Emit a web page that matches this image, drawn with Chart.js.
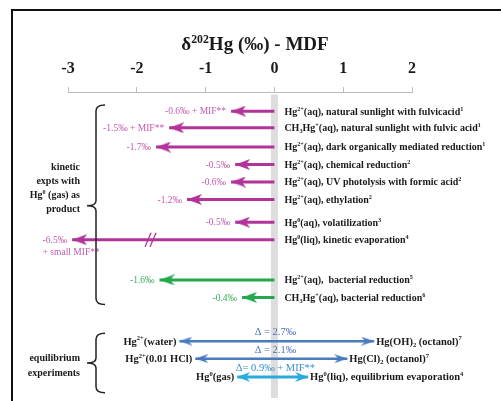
<!DOCTYPE html>
<html>
<head>
<meta charset="utf-8">
<script src="https://cdn.jsdelivr.net/npm/chart.js@4.4.1/dist/chart.umd.min.js"></script>
<style>
  html, body { margin: 0; padding: 0; background: #fff; }
  canvas { display: block; }
</style>
</head>
<body>
<canvas id="c" width="501" height="401"></canvas>
<script>
// ====================
// data
// ====================
const xTicks = [-3, -2, -1, 0, 1, 2];

// kinetic experiments: arrow from 0 to the tip
const kinRows = [1.1, 2.05, 3.15, 4.15, 5.15, 6.15, 7.45, 8.45, 10.75, 11.75];
const kinTips = [-0.63, -1.53, -1.72, -0.57, -0.63, -1.27, -0.57, -2.94, -1.67, -0.47];
const kinGroup = ["m", "m", "m", "m", "m", "m", "m", "m", "g", "g"];
const kinValueLabels = [
  "-0.6‰ + MIF**", "-1.5‰ + MIF**", "-1.7‰", "-0.5‰", "-0.6‰", "-1.2‰",
  "-0.5‰", "-6.5‰\n+ small MIF**", "-1.6‰", "-0.4‰"
];
const kinProcess = [
  "Hg^{2+}(aq), natural sunlight with fulvicacid^{1}",
  "CH_{3}Hg^{+}(aq), natural sunlight with fulvic acid^{1}",
  "Hg^{2+}(aq), dark organically mediated reduction^{1}",
  "Hg^{2+}(aq), chemical reduction^{2}",
  "Hg^{2+}(aq), UV photolysis with formic acid^{2}",
  "Hg^{2+}(aq), ethylation^{2}",
  "Hg^{0}(aq), volatilization^{3}",
  "Hg^{0}(liq), kinetic evaporation^{4}",
  "Hg^{2+}(aq),  bacterial reduction^{5}",
  "CH_{3}Hg^{+}(aq), bacterial reduction^{6}"
];
const brokenRow = 7;      // -6.5 arrow runs through an axis break
const breakAt = -1.8;

// equilibrium experiments: double arrows
const eqRows = [14.25, 15.25, 16.3];
const eqLeft = [-1.38, -1.15, -0.54];
const eqRight = [1.45, 1.06, 0.49];
const eqGroup = ["b", "b", "c"];
const eqLeftLabels = ["Hg^{2+}(water)", "Hg^{2+}(0.01 HCl)", "Hg^{0}(gas)"];
const eqRightLabels = ["Hg(OH)_{2} (octanol)^{7}", "Hg(Cl)_{2} (octanol)^{7}", "Hg^{0}(liq), equilibrium evaporation^{4}"];
const eqDelta = ["Δ = 2.7‰", "Δ = 2.1‰", "Δ= 0.9‰ + MIF**"];

const titleText = "δ^{202}Hg (‰) - MDF";
const kinGroupLabel = ["kinetic", "expts with", "Hg^{0} (gas) as", "product"];
const eqGroupLabel = ["equilibrium", "experiments"];

// ====================
// styles
// ====================
const colors = {
  m: { line: "#b0349a", text: "#c25bb0" },
  g: { line: "#23a84e", text: "#3aab5c" },
  b: { line: "#4a7bbf", text: "#4a74b4" },
  c: { line: "#2aa9df", text: "#3d8fc8" }
};
const serif = '"Liberation Serif", "Times New Roman", serif';

function makeHead(color, len, half) {
  // tip sits at the canvas centre so it lands on the data point
  const cv = document.createElement("canvas");
  cv.width = len * 2;
  cv.height = half * 2;
  const g = cv.getContext("2d");
  g.fillStyle = color;
  g.beginPath();
  g.moveTo(len, half);
  g.lineTo(0, 0);
  g.lineTo(4, half);
  g.lineTo(0, half * 2);
  g.closePath();
  g.fill();
  return cv;
}
const heads = {
  m: makeHead(colors.m.line, 15, 5.5),
  g: makeHead(colors.g.line, 15, 5.5),
  b: makeHead(colors.b.line, 13, 4.5),
  c: makeHead(colors.c.line, 13, 5)
};

// text with ^{sup} and _{sub}
function richText(ctx, str, x, y, size, weight, color, align) {
  const segs = [];
  const re = /([\^_])\{([^}]*)\}/g;
  let last = 0, m;
  while ((m = re.exec(str))) {
    if (m.index > last) segs.push({ t: str.slice(last, m.index), k: "" });
    segs.push({ t: m[2], k: m[1] });
    last = re.lastIndex;
  }
  if (last < str.length) segs.push({ t: str.slice(last), k: "" });
  const font = k => `${weight} ${k ? size * 0.62 : size}px ${serif}`;
  let w = 0;
  segs.forEach(s => { ctx.font = font(s.k); s.w = ctx.measureText(s.t).width; w += s.w; });
  let cx = align === "right" ? x - w : align === "center" ? x - w / 2 : x;
  ctx.fillStyle = color;
  ctx.textAlign = "left";
  ctx.textBaseline = "alphabetic";
  const base = y + size * 0.33;
  segs.forEach(s => {
    ctx.font = font(s.k);
    const dy = s.k === "^" ? -size * 0.4 : s.k === "_" ? size * 0.22 : 0;
    ctx.fillText(s.t, cx, base + dy);
    cx += s.w;
  });
  return w;
}

// ====================
// datasets
// ====================
const datasets = [];
// zero band
datasets.push({
  data: [{ x: 0, y: 0.15 }, { x: 0, y: 17.5 }],
  showLine: true, borderColor: "#dddddd", borderWidth: 7, pointRadius: 0, order: 10
});
kinRows.forEach((r, i) => {
  const k = kinGroup[i];
  datasets.push({
    data: [{ x: 0, y: r }, { x: kinTips[i], y: r }],
    showLine: true, borderColor: colors[k].line, borderWidth: 3,
    pointRadius: [0, 6], pointStyle: heads[k], pointRotation: 180
  });
});
eqRows.forEach((r, i) => {
  const k = eqGroup[i];
  datasets.push({
    data: [{ x: eqLeft[i], y: r }, { x: eqRight[i], y: r }],
    showLine: true, borderColor: colors[k].line, borderWidth: k === "c" ? 3 : 2.5,
    pointRadius: [6, 6], pointStyle: heads[k], pointRotation: [180, 0]
  });
});

// ====================
// annotations (labels, brackets, frame)
// ====================
const annotations = {
  id: "annotations",
  afterDatasetsDraw(chart) {
    const ctx = chart.ctx;
    const xs = chart.scales.x, ys = chart.scales.y;
    ctx.save();

    // frame
    ctx.strokeStyle = "#111";
    ctx.lineWidth = 2;
    ctx.beginPath();
    ctx.moveTo(12, 401);
    ctx.lineTo(12, 10);
    ctx.lineTo(501, 10);
    ctx.stroke();

    // title
    richText(ctx, titleText, 255, 44, 19, "bold", "#1a1a1a", "center");

    const x0 = xs.getPixelForValue(0);

    // kinetic rows
    kinRows.forEach((r, i) => {
      const y = ys.getPixelForValue(r);
      const tip = xs.getPixelForValue(kinTips[i]);
      const c = colors[kinGroup[i]].text;
      const lines = kinValueLabels[i].split("\n");
      ctx.font = `9.5px ${serif}`;
      const w0 = ctx.measureText(lines[0]).width;
      const lx = tip - 5 - w0;
      lines.forEach((ln, j) => richText(ctx, ln, lx, y + j * 12, 9.5, "normal", c, "left"));
      richText(ctx, kinProcess[i], x0 + 10, y, 10, "bold", "#1a1a1a", "left");
    });

    // axis break
    {
      const y = ys.getPixelForValue(kinRows[brokenRow]);
      const bx = xs.getPixelForValue(breakAt);
      ctx.strokeStyle = colors.m.line;
      ctx.lineWidth = 1.3;
      [-2.5, 2.5].forEach(d => {
        ctx.beginPath();
        ctx.moveTo(bx + d - 3, y + 7);
        ctx.lineTo(bx + d + 3, y - 7);
        ctx.stroke();
      });
    }

    // equilibrium rows
    eqRows.forEach((r, i) => {
      const y = ys.getPixelForValue(r);
      const l = xs.getPixelForValue(eqLeft[i]);
      const rt = xs.getPixelForValue(eqRight[i]);
      richText(ctx, eqLeftLabels[i], l - 3, y, 10.5, "bold", "#1a1a1a", "right");
      richText(ctx, eqRightLabels[i], rt + 2, y, 10.5, "bold", "#1a1a1a", "left");
      richText(ctx, eqDelta[i], x0 + 1, y - 9.5, 10.5, "normal", colors[eqGroup[i]].text, "center");
    });

    // brackets
    function bracket(top, bot, mid) {
      const t = ys.getPixelForValue(top), b = ys.getPixelForValue(bot), md = ys.getPixelForValue(mid);
      const xv = 96, xr = 105, xn = 87;
      ctx.strokeStyle = "#222";
      ctx.lineWidth = 1.5;
      ctx.beginPath();
      ctx.moveTo(xr, t);
      ctx.quadraticCurveTo(xv, t, xv, t + 6);
      ctx.lineTo(xv, md - 5);
      ctx.quadraticCurveTo(xv, md, xn, md);
      ctx.quadraticCurveTo(xv, md, xv, md + 5);
      ctx.lineTo(xv, b - 6);
      ctx.quadraticCurveTo(xv, b, xr, b);
      ctx.stroke();
      return md;
    }
    bracket(0.75, 12.15, 6.5);
    bracket(13.8, 17.2, 15.5);

    kinGroupLabel.forEach((ln, j) =>
      richText(ctx, ln, 80, ys.getPixelForValue(4.3) + j * 14, 10, "bold", "#1a1a1a", "right"));
    eqGroupLabel.forEach((ln, j) =>
      richText(ctx, ln, 80, ys.getPixelForValue(15.2) + j * 15, 10, "bold", "#1a1a1a", "right"));

    ctx.restore();
  }
};

new Chart(document.getElementById("c"), {
  type: "scatter",
  data: { datasets },
  options: {
    responsive: false,
    animation: false,
    layout: { autoPadding: false, padding: { left: 68, right: 89, top: 58, bottom: 3 } },
    plugins: { legend: { display: false }, tooltip: { enabled: false } },
    scales: {
      x: {
        type: "linear",
        position: "top",
        min: -3,
        max: 2,
        afterBuildTicks: s => { s.ticks = xTicks.map(v => ({ value: v })); },
        afterFit: s => { s.height = 34; },
        ticks: { color: "#1a1a1a", padding: 9, font: { family: serif, size: 16, weight: "bold" } },
        grid: { drawOnChartArea: false, tickLength: 5, color: "#bbbbbb" },
        border: { color: "#bbbbbb" }
      },
      y: {
        type: "linear",
        display: false,
        reverse: true,
        min: 0,
        max: 17.5
      }
    }
  },
  plugins: [annotations]
});
</script>
</body>
</html>
